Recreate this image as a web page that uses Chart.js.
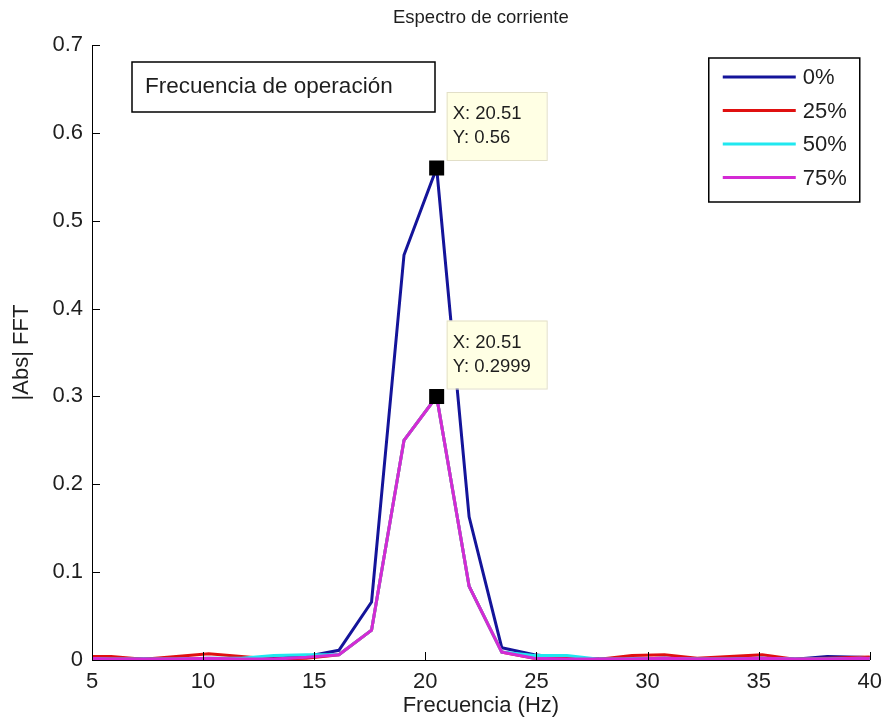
<!DOCTYPE html>
<html>
<head>
<meta charset="utf-8">
<script src="https://cdn.jsdelivr.net/npm/chart.js@4.4.1/dist/chart.umd.min.js"></script>
<style>
  html, body { margin: 0; padding: 0; background: #fff; }
  #wrap { width: 891px; height: 728px; }
</style>
</head>
<body>
<div id="wrap"><canvas id="chart"></canvas></div>
<script>
// frecuencias (Hz) y espectros
const freq = [4.39, 5.86, 7.32, 8.79, 10.25, 11.72, 13.18, 14.65, 16.11, 17.58, 19.04, 20.51, 21.97,
              23.44, 24.90, 26.37, 27.83, 29.30, 30.76, 32.23, 33.69, 35.16, 36.62, 38.09, 39.55, 41.02];

const carga0  = [0.002, 0.002, 0.001, 0.001, 0.001, 0.001, 0.002, 0.004, 0.011, 0.066, 0.461, 0.56, 0.163,
                 0.014, 0.006, 0.002, 0.001, 0.001, 0.002, 0.001, 0.002, 0.002, 0.001, 0.004, 0.003, 0.002];
const carga25 = [0.004, 0.004, 0.001, 0.004, 0.007, 0.004, 0.001, 0.002, 0.006, 0.034, 0.25, 0.2999, 0.084,
                 0.009, 0.002, 0.002, 0.001, 0.005, 0.006, 0.002, 0.004, 0.006, 0.001, 0.002, 0.003, 0.004];
const carga50 = [0.002, 0.001, 0.001, 0.001, 0.002, 0.002, 0.005, 0.006, 0.006, 0.034, 0.25, 0.2999, 0.084,
                 0.009, 0.005, 0.005, 0.001, 0.001, 0.002, 0.001, 0.001, 0.002, 0.001, 0.001, 0.002, 0.001];
const carga75 = [0.002, 0.001, 0.001, 0.001, 0.002, 0.001, 0.001, 0.003, 0.006, 0.034, 0.25, 0.2999, 0.084,
                 0.009, 0.002, 0.001, 0.001, 0.001, 0.002, 0.001, 0.001, 0.002, 0.001, 0.001, 0.002, 0.001];

const etiquetas = ['0%', '25%', '50%', '75%'];
const colores = ['#14149a', '#e01010', '#20e8f0', '#d42ad4'];

// data tips
const tipX = [20.51, 20.51];
const tipY = [0.56, 0.2999];
const tipTxt = [['X: 20.51', 'Y: 0.56'], ['X: 20.51', 'Y: 0.2999']];

const FONT = "'Liberation Sans', Arial, sans-serif";
const TXT = '#1e1e1e';

const pts = (vals) => freq.map((f, i) => ({ x: f, y: vals[i] }));

// titulo, ticks hacia dentro, cajas de texto, leyenda
const overlay = {
  id: 'overlay',
  afterDatasetsDraw(chart) {
    const { ctx, chartArea: a, scales: { x, y } } = chart;
    ctx.save();

    ctx.fillStyle = TXT;
    ctx.font = '18.5px ' + FONT;
    ctx.textAlign = 'center';
    ctx.textBaseline = 'middle';
    ctx.fillText('Espectro de corriente', (a.left + a.right) / 2, 18);

    ctx.strokeStyle = '#000';
    ctx.lineWidth = 1;
    ctx.beginPath();
    y.ticks.forEach(t => {
      const py = Math.round(y.getPixelForValue(t.value)) + 0.5;
      ctx.moveTo(a.left, py); ctx.lineTo(a.left + 8, py);
    });
    x.ticks.forEach(t => {
      const px = Math.round(x.getPixelForValue(t.value)) + 0.5;
      ctx.moveTo(px, a.bottom); ctx.lineTo(px, a.bottom - 8);
    });
    ctx.stroke();

    // data tips
    ctx.textAlign = 'left';
    tipX.forEach((fx, i) => {
      const px = x.getPixelForValue(fx), py = y.getPixelForValue(tipY[i]);
      ctx.fillStyle = '#000';
      ctx.fillRect(px - 7.5, py - 7.5, 15, 15);
      const bx = px + 10, by = py - 8 - 68;
      ctx.fillStyle = '#ffffe4';
      ctx.fillRect(bx, by, 100, 68);
      ctx.strokeStyle = '#e2dfc8';
      ctx.strokeRect(bx + 0.5, by + 0.5, 100, 68);
      ctx.fillStyle = TXT;
      ctx.font = '18.5px ' + FONT;
      ctx.fillText(tipTxt[i][0], bx + 6, by + 22);
      ctx.fillText(tipTxt[i][1], bx + 6, by + 46);
    });

    // caja "Frecuencia de operación"
    const tx = a.left + 40, ty = a.top + 17;
    ctx.fillStyle = '#fff';
    ctx.fillRect(tx, ty, 303, 50);
    ctx.strokeStyle = '#000';
    ctx.lineWidth = 1.5;
    ctx.strokeRect(tx, ty, 303, 50);
    ctx.fillStyle = TXT;
    ctx.font = '22.5px ' + FONT;
    ctx.fillText('Frecuencia de operación', tx + 13, ty + 25);

    // leyenda
    const lx = a.right - 161, ly = a.top + 13;
    ctx.fillStyle = '#fff';
    ctx.fillRect(lx, ly, 151, 144);
    ctx.strokeRect(lx, ly, 151, 144);
    chart.data.datasets.forEach((ds, i) => {
      const ry = ly + 19 + i * 33.5;
      ctx.strokeStyle = ds.borderColor;
      ctx.lineWidth = 3;
      ctx.beginPath();
      ctx.moveTo(lx + 14, ry); ctx.lineTo(lx + 87, ry);
      ctx.stroke();
      ctx.fillStyle = TXT;
      ctx.font = '22px ' + FONT;
      ctx.fillText(ds.label, lx + 94, ry + 1);
    });
    ctx.restore();
  }
};

const ctx = document.querySelector('#chart').getContext('2d');

new Chart(ctx, {
  type: 'line',
  data: {
    datasets: [carga0, carga25, carga50, carga75].map((v, i) => ({
      label: etiquetas[i],
      data: pts(v),
      borderColor: colores[i],
      borderWidth: 3,
      pointRadius: 0,
      tension: 0,
      order: 3 - i   // 75% encima
    }))
  },
  options: {
    responsive: true,
    maintainAspectRatio: false,
    animation: false,
    layout: { padding: { left: 0, right: 18, top: 45, bottom: 0 } },
    plugins: {
      legend: { display: false },
      tooltip: { enabled: false },
      title: { display: false }
    },
    scales: {
      x: {
        type: 'linear',
        min: 5,
        max: 40,
        afterFit: s => { s.height = 68; },
        border: { display: true, color: '#000', width: 1 },
        grid: { display: true, drawOnChartArea: false, drawTicks: false },
        ticks: { stepSize: 5, padding: 9, color: TXT, font: { family: FONT, size: 22 } },
        title: {
          display: true,
          text: 'Frecuencia (Hz)',
          color: TXT,
          font: { family: FONT, size: 22 },
          padding: { top: 0, bottom: 9 }
        }
      },
      y: {
        min: 0,
        max: 0.7,
        afterFit: s => { s.width = 92; },
        border: { display: true, color: '#000', width: 1 },
        grid: { display: true, drawOnChartArea: false, drawTicks: false },
        ticks: { stepSize: 0.1, padding: 9, color: TXT, font: { family: FONT, size: 22 } },
        title: {
          display: true,
          text: '|Abs| FFT',
          color: TXT,
          font: { family: FONT, size: 22 },
          padding: { top: 9, bottom: 0 }
        }
      }
    }
  },
  plugins: [overlay]
});
</script>
</body>
</html>
